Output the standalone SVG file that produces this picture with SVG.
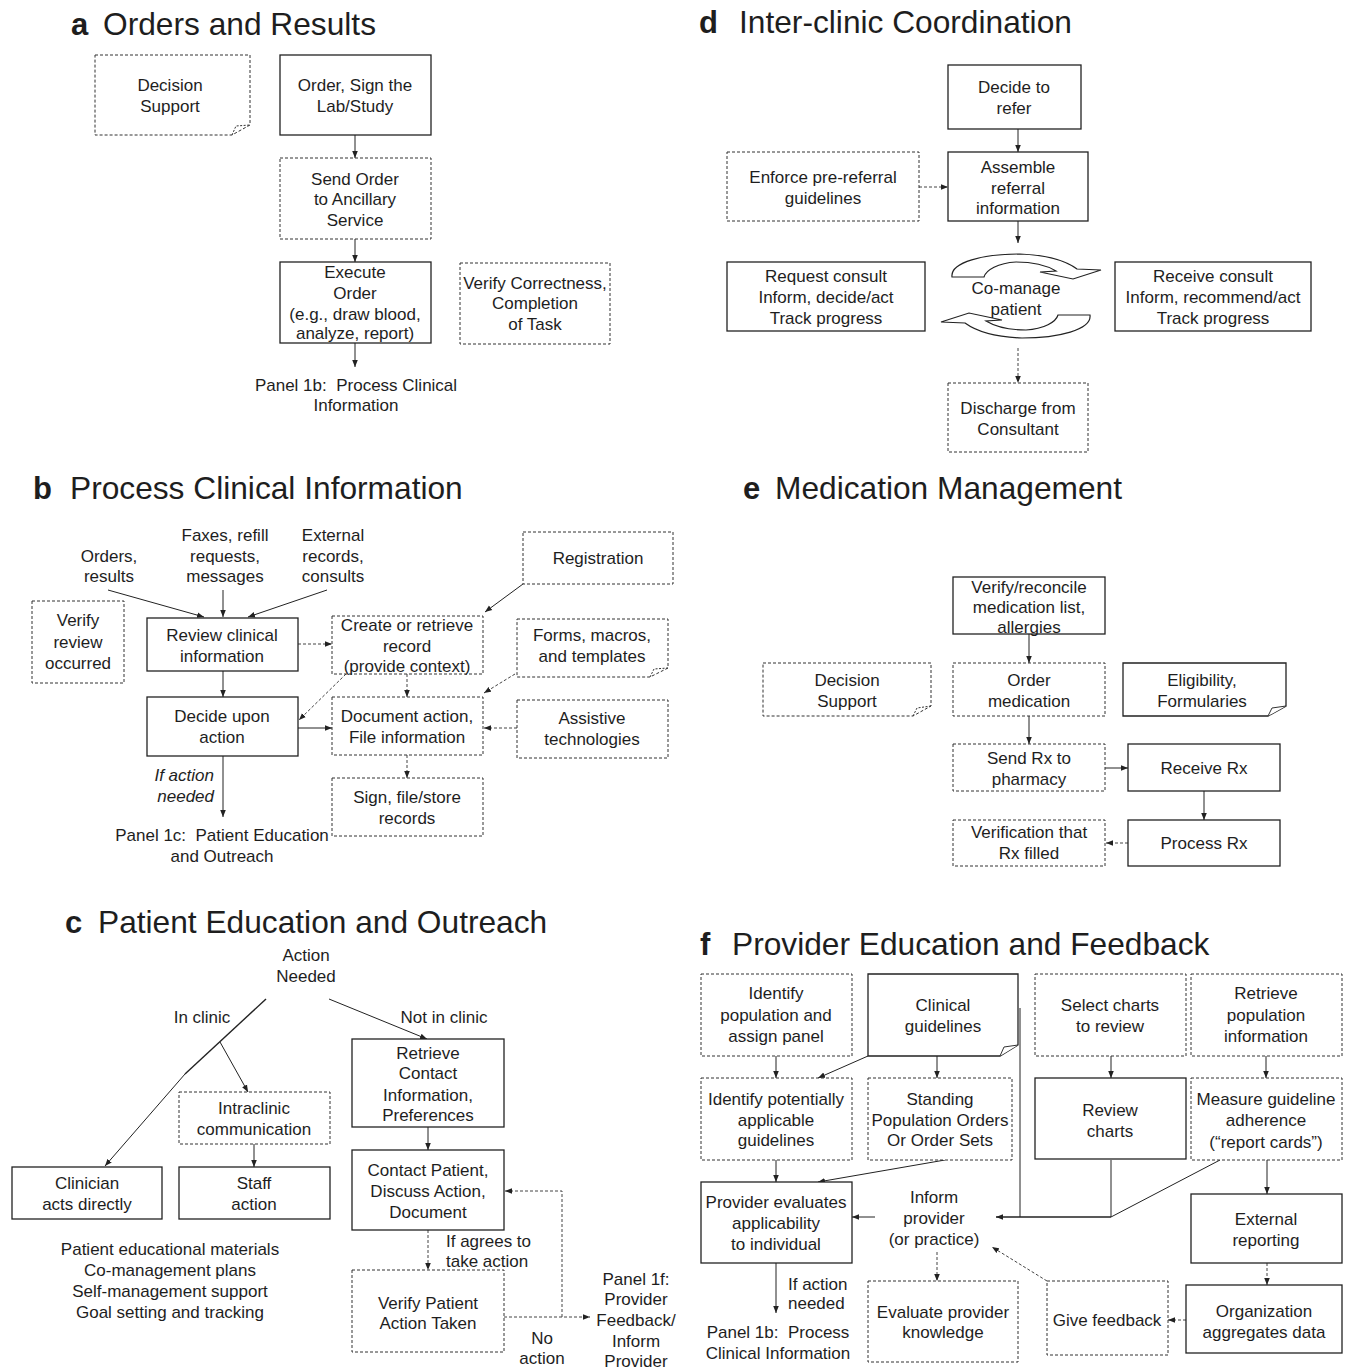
<svg xmlns="http://www.w3.org/2000/svg" width="1348" height="1370" viewBox="0 0 1348 1370">
<style>
text{font-family:"Liberation Sans",Arial,sans-serif;font-size:17px;fill:#1e1e1e;text-anchor:middle}
.lt{text-anchor:start}
.rt{text-anchor:end}
.it{font-style:italic}
.hl{font-size:31px;font-weight:bold;text-anchor:start}
.ht{font-size:31.7px;text-anchor:start}
.box{fill:#fff;stroke:#222;stroke-width:1.3}
.dbox{fill:#fff;stroke:#333;stroke-width:1;stroke-dasharray:3 2}
.fold{fill:#fff;stroke:#333;stroke-width:1}
.dfold{fill:none;stroke:#333;stroke-width:1;stroke-dasharray:2 1.5}
.ln{fill:none;stroke:#222;stroke-width:1}
.lnb{fill:none;stroke:#222;stroke-width:1.4}
.dl{fill:none;stroke:#444;stroke-width:1;stroke-dasharray:3 2}
.arr{fill:#fff;stroke:#222;stroke-width:1.2}
</style>
<defs>
<marker id="ah" viewBox="0 0 10 10" refX="10" refY="5" markerWidth="7" markerHeight="7" markerUnits="userSpaceOnUse" orient="auto"><path d="M0,1 L10,5 L0,9 Z" fill="#222"/></marker>
</defs>
<rect width="1348" height="1370" fill="#fff"/>

<!-- Titles -->
<g id="titles">
<text class="hl" x="71" y="35">a</text><text class="ht" x="103" y="35">Orders and Results</text>
<text class="hl" x="699" y="33">d</text><text class="ht" x="739" y="33">Inter-clinic Coordination</text>
<text class="hl" x="33" y="499">b</text><text class="ht" x="70" y="499">Process Clinical Information</text>
<text class="hl" x="743" y="499">e</text><text class="ht" x="775" y="499">Medication Management</text>
<text class="hl" x="65" y="933">c</text><text class="ht" x="98" y="933">Patient Education and Outreach</text>
<text class="hl" x="700" y="955">f</text><text class="ht" x="732" y="955">Provider Education and Feedback</text>
</g>

<!-- Connectors -->
<g id="connectors">
<!-- a -->
<line class="ln" x1="355" y1="135" x2="355" y2="158" marker-end="url(#ah)"/>
<line class="ln" x1="355" y1="239" x2="355" y2="262" marker-end="url(#ah)"/>
<line class="ln" x1="355" y1="343" x2="355" y2="367" marker-end="url(#ah)"/>
<!-- d -->
<line class="ln" x1="1018" y1="129" x2="1018" y2="152" marker-end="url(#ah)"/>
<line class="dl" x1="919" y1="187" x2="948" y2="187" marker-end="url(#ah)"/>
<line class="ln" x1="1018" y1="221" x2="1018" y2="243" marker-end="url(#ah)"/>
<line class="dl" x1="1018" y1="348" x2="1018" y2="383" marker-end="url(#ah)"/>
<!-- b -->
<line class="ln" x1="108" y1="590" x2="204" y2="617" marker-end="url(#ah)"/>
<line class="ln" x1="223" y1="590" x2="223" y2="617" marker-end="url(#ah)"/>
<line class="ln" x1="327" y1="590" x2="248" y2="617" marker-end="url(#ah)"/>
<line class="ln" x1="523" y1="584" x2="485" y2="612" marker-end="url(#ah)"/>
<line class="dl" x1="298" y1="644" x2="332" y2="644" marker-end="url(#ah)"/>
<line class="ln" x1="223" y1="671" x2="223" y2="697" marker-end="url(#ah)"/>
<line class="dl" x1="346" y1="674" x2="299" y2="720" marker-end="url(#ah)"/>
<line class="ln" x1="298" y1="728" x2="332" y2="728" marker-end="url(#ah)"/>
<line class="dl" x1="407" y1="674" x2="407" y2="697" marker-end="url(#ah)"/>
<line class="dl" x1="515" y1="674" x2="484" y2="693" marker-end="url(#ah)"/>
<line class="dl" x1="517" y1="728" x2="484" y2="728" marker-end="url(#ah)"/>
<line class="dl" x1="407" y1="755" x2="407" y2="778" marker-end="url(#ah)"/>
<line class="ln" x1="223" y1="756" x2="223" y2="817" marker-end="url(#ah)"/>
<!-- e -->
<line class="ln" x1="1029" y1="634" x2="1029" y2="663" marker-end="url(#ah)"/>
<line class="ln" x1="1029" y1="716" x2="1029" y2="744" marker-end="url(#ah)"/>
<line class="ln" x1="1105" y1="768" x2="1128" y2="768" marker-end="url(#ah)"/>
<line class="ln" x1="1204" y1="791" x2="1204" y2="820" marker-end="url(#ah)"/>
<line class="dl" x1="1128" y1="843" x2="1106" y2="843" marker-end="url(#ah)"/>
<!-- c -->
<line class="lnb" x1="266" y1="999" x2="185" y2="1074"/>
<line class="ln" x1="185" y1="1074" x2="105" y2="1166" marker-end="url(#ah)"/>
<line class="ln" x1="220" y1="1042" x2="248" y2="1092" marker-end="url(#ah)"/>
<line class="ln" x1="329" y1="999" x2="427" y2="1039" marker-end="url(#ah)"/>
<line class="ln" x1="254" y1="1144" x2="254" y2="1167" marker-end="url(#ah)"/>
<line class="ln" x1="428" y1="1127" x2="428" y2="1150" marker-end="url(#ah)"/>
<line class="dl" x1="428" y1="1230" x2="428" y2="1270" marker-end="url(#ah)"/>
<line class="dl" x1="504" y1="1317" x2="590" y2="1317" marker-end="url(#ah)"/>
<path class="dl" d="M562,1317 V1191 H505" marker-end="url(#ah)"/>
<!-- f -->
<line class="ln" x1="776" y1="1056" x2="776" y2="1078" marker-end="url(#ah)"/>
<line class="ln" x1="868" y1="1056" x2="818" y2="1078" marker-end="url(#ah)"/>
<line class="ln" x1="937" y1="1056" x2="937" y2="1078" marker-end="url(#ah)"/>
<line class="ln" x1="1111" y1="1056" x2="1111" y2="1078" marker-end="url(#ah)"/>
<line class="ln" x1="1266" y1="1056" x2="1266" y2="1078" marker-end="url(#ah)"/>
<line class="ln" x1="776" y1="1160" x2="776" y2="1182" marker-end="url(#ah)"/>
<line class="ln" x1="945" y1="1160" x2="818" y2="1182" marker-end="url(#ah)"/>
<line class="ln" x1="875" y1="1217" x2="852" y2="1217" marker-end="url(#ah)"/>
<path class="ln" d="M1020,1008 V1217"/>
<path class="ln" d="M1111,1160 V1217"/>
<path class="ln" d="M1220,1160 L1111,1217"/>
<path class="lnb" d="M1111,1217 H996" marker-end="url(#ah)"/>
<line class="ln" x1="1267" y1="1160" x2="1267" y2="1194" marker-end="url(#ah)"/>
<line class="dl" x1="1267" y1="1263" x2="1267" y2="1285" marker-end="url(#ah)"/>
<line class="dl" x1="1186" y1="1320" x2="1168" y2="1320" marker-end="url(#ah)"/>
<line class="dl" x1="1047" y1="1281" x2="992" y2="1247" marker-end="url(#ah)"/>
<line class="dl" x1="937" y1="1252" x2="937" y2="1281" marker-end="url(#ah)"/>
<line class="ln" x1="776" y1="1263" x2="776" y2="1313" marker-end="url(#ah)"/>
</g>

<!-- Panel a nodes -->
<g id="a-decision-support"><path class="dbox" d="M95,55 H250 V125 L232,135 H95 Z"/><path class="dfold" d="M232,135 L236,126 L250,125"/><text x="170" y="91">Decision</text><text x="170" y="112">Support</text></g>
<g id="a-order-sign"><rect class="box" x="280" y="55" width="151" height="80"/><text x="355" y="91">Order, Sign the</text><text x="355" y="112">Lab/Study</text></g>
<g id="a-send-order"><rect class="dbox" x="280" y="158" width="151" height="81"/><text x="355" y="185">Send Order</text><text x="355" y="205">to Ancillary</text><text x="355" y="226">Service</text></g>
<g id="a-execute"><rect class="box" x="280" y="262" width="151" height="81"/><text x="355" y="278">Execute</text><text x="355" y="299">Order</text><text x="355" y="320">(e.g., draw blood,</text><text x="355" y="339">analyze, report)</text></g>
<g id="a-verify"><rect class="dbox" x="460" y="263" width="150" height="81"/><text x="535" y="289">Verify Correctness,</text><text x="535" y="309">Completion</text><text x="535" y="330">of Task</text></g>
<g id="a-panel1b"><text x="356" y="391">Panel 1b:&#160; Process Clinical</text><text x="356" y="411">Information</text></g>

<!-- Panel d nodes -->
<g id="d-decide"><rect class="box" x="948" y="65" width="133" height="64"/><text x="1014" y="93">Decide to</text><text x="1014" y="114">refer</text></g>
<g id="d-assemble"><rect class="box" x="948" y="152" width="140" height="69"/><text x="1018" y="173">Assemble</text><text x="1018" y="194">referral</text><text x="1018" y="214">information</text></g>
<g id="d-enforce"><rect class="dbox" x="727" y="152" width="192" height="69"/><text x="823" y="183">Enforce pre-referral</text><text x="823" y="204">guidelines</text></g>
<g id="d-request"><rect class="box" x="727" y="262" width="198" height="69"/><text x="826" y="282">Request consult</text><text x="826" y="303">Inform, decide/act</text><text x="826" y="324">Track progress</text></g>
<g id="d-receive"><rect class="box" x="1115" y="262" width="196" height="69"/><text x="1213" y="282">Receive consult</text><text x="1213" y="303">Inform, recommend/act</text><text x="1213" y="324">Track progress</text></g>
<g id="d-comanage">
<path id="carr" class="arr" d="M952,277 C950,262 984,254 1020,254 C1048,255 1066,261 1077,269 L1101,270 L1073,279 L1040,272 L1056,271 C1046,265 1031,262 1016,262 C998,263 986,270 984,277 Z"/>
<use href="#carr" transform="rotate(180 1021 296)"/>
<text x="1016" y="294">Co-manage</text><text x="1016" y="315">patient</text>
</g>
<g id="d-discharge"><rect class="dbox" x="948" y="383" width="140" height="69"/><text x="1018" y="414">Discharge from</text><text x="1018" y="435">Consultant</text></g>

<!-- Panel b nodes -->
<g id="b-orders"><text x="109" y="562">Orders,</text><text x="109" y="582">results</text></g>
<g id="b-faxes"><text x="225" y="541">Faxes, refill</text><text x="225" y="562">requests,</text><text x="225" y="582">messages</text></g>
<g id="b-external"><text x="333" y="541">External</text><text x="333" y="562">records,</text><text x="333" y="582">consults</text></g>
<g id="b-verify"><rect class="dbox" x="32" y="601" width="92" height="82"/><text x="78" y="626">Verify</text><text x="78" y="648">review</text><text x="78" y="669">occurred</text></g>
<g id="b-review"><rect class="box" x="147" y="618" width="151" height="53"/><text x="222" y="641">Review clinical</text><text x="222" y="662">information</text></g>
<g id="b-decide"><rect class="box" x="147" y="697" width="151" height="59"/><text x="222" y="722">Decide upon</text><text x="222" y="743">action</text></g>
<g id="b-create"><rect class="dbox" x="332" y="616" width="151" height="58"/><text x="407" y="631">Create or retrieve</text><text x="407" y="652">record</text><text x="407" y="672">(provide context)</text></g>
<g id="b-registration"><rect class="dbox" x="523" y="532" width="150" height="52"/><text x="598" y="564">Registration</text></g>
<g id="b-forms"><path class="dbox" d="M517,619 H668 V668 L650,677 H517 Z"/><path class="dfold" d="M650,677 L654,669 L668,668"/><text x="592" y="641">Forms, macros,</text><text x="592" y="662">and templates</text></g>
<g id="b-document"><rect class="dbox" x="332" y="697" width="151" height="58"/><text x="407" y="722">Document action,</text><text x="407" y="743">File information</text></g>
<g id="b-assistive"><rect class="dbox" x="517" y="700" width="151" height="58"/><text x="592" y="724">Assistive</text><text x="592" y="745">technologies</text></g>
<g id="b-sign"><rect class="dbox" x="332" y="778" width="151" height="58"/><text x="407" y="803">Sign, file/store</text><text x="407" y="824">records</text></g>
<g id="b-ifaction"><text class="rt it" x="214" y="781">If action</text><text class="rt it" x="214" y="802">needed</text></g>
<g id="b-panel1c"><text x="222" y="841">Panel 1c:&#160; Patient Education</text><text x="222" y="862">and Outreach</text></g>

<!-- Panel e nodes -->
<g id="e-verify"><rect class="box" x="953" y="577" width="152" height="57"/><text x="1029" y="593">Verify/reconcile</text><text x="1029" y="613">medication list,</text><text x="1029" y="633">allergies</text></g>
<g id="e-order"><rect class="dbox" x="953" y="663" width="152" height="53"/><text x="1029" y="686">Order</text><text x="1029" y="707">medication</text></g>
<g id="e-decision"><path class="dbox" d="M763,663 H931 V706 L913,716 H763 Z"/><path class="dfold" d="M913,716 L917,708 L931,706"/><text x="847" y="686">Decision</text><text x="847" y="707">Support</text></g>
<g id="e-eligibility"><path class="box" d="M1123,663 H1286 V706 L1268,716 H1123 Z"/><path class="fold" d="M1268,716 L1272,708 L1286,706"/><text x="1202" y="686">Eligibility,</text><text x="1202" y="707">Formularies</text></g>
<g id="e-send"><rect class="dbox" x="953" y="744" width="152" height="47"/><text x="1029" y="764">Send Rx to</text><text x="1029" y="785">pharmacy</text></g>
<g id="e-receive"><rect class="box" x="1128" y="744" width="152" height="47"/><text x="1204" y="774">Receive Rx</text></g>
<g id="e-process"><rect class="box" x="1128" y="820" width="152" height="46"/><text x="1204" y="849">Process Rx</text></g>
<g id="e-verification"><rect class="dbox" x="953" y="820" width="152" height="46"/><text x="1029" y="838">Verification that</text><text x="1029" y="859">Rx filled</text></g>

<!-- Panel c nodes -->
<g id="c-action"><text x="306" y="961">Action</text><text x="306" y="982">Needed</text></g>
<g id="c-inclinic"><text x="202" y="1023">In clinic</text></g>
<g id="c-notinclinic"><text x="444" y="1023">Not in clinic</text></g>
<g id="c-intraclinic"><rect class="dbox" x="179" y="1092" width="151" height="52"/><text x="254" y="1114">Intraclinic</text><text x="254" y="1135">communication</text></g>
<g id="c-clinician"><rect class="box" x="12" y="1167" width="150" height="52"/><text x="87" y="1189">Clinician</text><text x="87" y="1210">acts directly</text></g>
<g id="c-staff"><rect class="box" x="179" y="1167" width="151" height="52"/><text x="254" y="1189">Staff</text><text x="254" y="1210">action</text></g>
<g id="c-list"><text x="170" y="1255">Patient educational materials</text><text x="170" y="1276">Co-management plans</text><text x="170" y="1297">Self-management support</text><text x="170" y="1318">Goal setting and tracking</text></g>
<g id="c-retrieve"><rect class="box" x="352" y="1039" width="152" height="88"/><text x="428" y="1059">Retrieve</text><text x="428" y="1079">Contact</text><text x="428" y="1101">Information,</text><text x="428" y="1121">Preferences</text></g>
<g id="c-contact"><rect class="box" x="352" y="1150" width="152" height="80"/><text x="428" y="1176">Contact Patient,</text><text x="428" y="1197">Discuss Action,</text><text x="428" y="1218">Document</text></g>
<g id="c-ifagrees"><text class="lt" x="446" y="1247">If agrees to</text><text class="lt" x="446" y="1267">take action</text></g>
<g id="c-verify"><rect class="dbox" x="352" y="1270" width="152" height="82"/><text x="428" y="1309">Verify Patient</text><text x="428" y="1329">Action Taken</text></g>
<g id="c-noaction"><text x="542" y="1344">No</text><text x="542" y="1364">action</text></g>
<g id="c-panel1f"><text x="636" y="1285">Panel 1f:</text><text x="636" y="1305">Provider</text><text x="636" y="1326">Feedback/</text><text x="636" y="1347">Inform</text><text x="636" y="1367">Provider</text></g>

<!-- Panel f nodes -->
<g id="f-identify-pop"><rect class="dbox" x="701" y="974" width="151" height="82"/><text x="776" y="999">Identify</text><text x="776" y="1021">population and</text><text x="776" y="1042">assign panel</text></g>
<g id="f-clinical"><path class="box" d="M868,974 H1018 V1045 L1000,1056 H868 Z"/><path class="fold" d="M1000,1056 L1004,1047 L1018,1045"/><text x="943" y="1011">Clinical</text><text x="943" y="1032">guidelines</text></g>
<g id="f-select"><rect class="dbox" x="1035" y="974" width="151" height="82"/><text x="1110" y="1011">Select charts</text><text x="1110" y="1032">to review</text></g>
<g id="f-retrieve"><rect class="dbox" x="1191" y="974" width="151" height="82"/><text x="1266" y="999">Retrieve</text><text x="1266" y="1021">population</text><text x="1266" y="1042">information</text></g>
<g id="f-identify-guide"><rect class="dbox" x="701" y="1078" width="151" height="82"/><text x="776" y="1105">Identify potentially</text><text x="776" y="1126">applicable</text><text x="776" y="1146">guidelines</text></g>
<g id="f-standing"><rect class="dbox" x="868" y="1078" width="144" height="82"/><text x="940" y="1105">Standing</text><text x="940" y="1126">Population Orders</text><text x="940" y="1146">Or Order Sets</text></g>
<g id="f-review"><rect class="box" x="1035" y="1078" width="151" height="81"/><text x="1110" y="1116">Review</text><text x="1110" y="1137">charts</text></g>
<g id="f-measure"><rect class="dbox" x="1191" y="1078" width="151" height="82"/><text x="1266" y="1105">Measure guideline</text><text x="1266" y="1126">adherence</text><text x="1266" y="1148">(“report cards”)</text></g>
<g id="f-provider-eval"><rect class="box" x="701" y="1182" width="151" height="81"/><text x="776" y="1208">Provider evaluates</text><text x="776" y="1229">applicability</text><text x="776" y="1250">to individual</text></g>
<g id="f-inform"><text x="934" y="1203">Inform</text><text x="934" y="1224">provider</text><text x="934" y="1245">(or practice)</text></g>
<g id="f-external"><rect class="box" x="1191" y="1194" width="151" height="69"/><text x="1266" y="1225">External</text><text x="1266" y="1246">reporting</text></g>
<g id="f-organization"><rect class="box" x="1186" y="1285" width="156" height="68"/><text x="1264" y="1317">Organization</text><text x="1264" y="1338">aggregates data</text></g>
<g id="f-feedback"><rect class="dbox" x="1047" y="1281" width="121" height="74"/><text x="1107" y="1326">Give feedback</text></g>
<g id="f-evaluate"><rect class="dbox" x="868" y="1281" width="150" height="81"/><text x="943" y="1318">Evaluate provider</text><text x="943" y="1338">knowledge</text></g>
<g id="f-ifaction"><text class="lt" x="788" y="1290">If action</text><text class="lt" x="788" y="1309">needed</text></g>
<g id="f-panel1b"><text x="778" y="1338">Panel 1b:&#160; Process</text><text x="778" y="1359">Clinical Information</text></g>
</svg>
